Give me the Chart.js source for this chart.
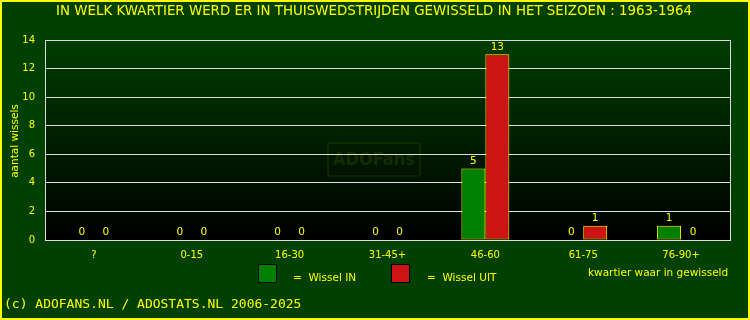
<!DOCTYPE html>
<html>
<head>
<meta charset="utf-8">
<script src="https://cdn.jsdelivr.net/npm/chart.js@4"></script>
<style>
  html, body { margin: 0; padding: 0; background: #004000; }
  #wrap { width: 750px; height: 320px; }
</style>
</head>
<body>
<div id="wrap"><canvas id="chart" width="750" height="320"></canvas></div>
<script>
// gegevens
const categories = ['?', '0-15', '16-30', '31-45+', '46-60', '61-75', '76-90+'];
const wisselIn = [0, 0, 0, 0, 5, 0, 1];
const wisselUit = [0, 0, 0, 0, 13, 1, 0];
const yMax = 14;
const yStep = 2;

const YELLOW = '#ffff00';
const FONT = '"DejaVu Sans", sans-serif';

const decor = {
  id: 'decor',
  beforeDraw(chart) {
    const { ctx, chartArea: a } = chart;
    ctx.save();
    ctx.fillStyle = '#004000';
    ctx.fillRect(0, 0, chart.width, chart.height);
    const g = ctx.createLinearGradient(0, a.top, 0, a.bottom);
    g.addColorStop(0, '#003c00');
    g.addColorStop(1, '#000000');
    ctx.fillStyle = g;
    ctx.fillRect(a.left, a.top, a.right - a.left, a.bottom - a.top);

    // watermerk
    ctx.strokeStyle = 'rgba(60,80,0,0.35)';
    ctx.lineWidth = 1.5;
    const wx = 328, wy = 143, ww = 92, wh = 33;
    ctx.beginPath();
    ctx.roundRect(wx, wy, ww, wh, 3);
    ctx.stroke();
    ctx.fillStyle = 'rgba(60,80,0,0.35)';
    ctx.font = 'bold 18px "DejaVu Sans Condensed", ' + FONT;
    ctx.textAlign = 'center';
    ctx.textBaseline = 'middle';
    ctx.fillText('ADOFans', wx + ww / 2, wy + wh / 2 + 1);
    ctx.restore();
  },
  afterDatasetsDraw(chart) {
    const { ctx } = chart;
    ctx.save();
    ctx.fillStyle = YELLOW;
    ctx.font = '10.5px ' + FONT;
    ctx.textAlign = 'center';
    ctx.textBaseline = 'bottom';
    chart.data.datasets.forEach((ds, i) => {
      chart.getDatasetMeta(i).data.forEach((bar, j) => {
        ctx.fillText(String(ds.data[j]), bar.x, bar.y - 2);
      });
    });
    ctx.restore();
  },
  afterDraw(chart) {
    const { ctx, chartArea: a } = chart;
    ctx.save();
    // rechter rand van het plotvlak
    ctx.strokeStyle = '#dddddd';
    ctx.lineWidth = 1;
    ctx.beginPath();
    ctx.moveTo(a.right + 0.5, a.top);
    ctx.lineTo(a.right + 0.5, a.bottom + 0.5);
    ctx.stroke();

    ctx.fillStyle = YELLOW;
    ctx.textBaseline = 'middle';

    // titel
    ctx.font = '13.4px ' + FONT;
    ctx.textAlign = 'center';
    ctx.fillText('IN WELK KWARTIER WERD ER IN THUISWEDSTRIJDEN GEWISSELD IN HET SEIZOEN : 1963-1964', 374, 12);

    // y-as titel
    ctx.save();
    ctx.translate(15, 141);
    ctx.rotate(-Math.PI / 2);
    ctx.font = '10.5px ' + FONT;
    ctx.fillText('aantal wissels', 0, 0);
    ctx.restore();

    // legenda
    ctx.textAlign = 'left';
    ctx.font = '10.5px ' + FONT;
    ctx.fillStyle = '#008000';
    ctx.fillRect(258, 264, 19, 19);
    ctx.strokeStyle = '#000000';
    ctx.strokeRect(258.5, 264.5, 18, 18);
    ctx.fillStyle = '#cc1414';
    ctx.fillRect(391, 264, 19, 19);
    ctx.strokeRect(391.5, 264.5, 18, 18);
    ctx.fillStyle = YELLOW;
    ctx.fillText('=  Wissel IN', 293, 278);
    ctx.fillText('=  Wissel UIT', 427, 278);
    ctx.fillText('kwartier waar in gewisseld', 588, 273);

    // voetregel
    ctx.font = '13px "DejaVu Sans Mono", monospace';
    ctx.fillText('(c) ADOFANS.NL / ADOSTATS.NL 2006-2025', 4, 305);

    // kader
    ctx.strokeStyle = YELLOW;
    ctx.lineWidth = 2;
    ctx.strokeRect(1, 1, chart.width - 2, chart.height - 2);
    ctx.restore();
  }
};

const zeroless = c => (c.raw === 0 ? 0 : 1);

new Chart(document.getElementById('chart'), {
  type: 'bar',
  data: {
    labels: categories,
    datasets: [
      { label: 'Wissel IN', data: wisselIn, backgroundColor: '#008000', borderColor: YELLOW, borderWidth: zeroless, borderSkipped: false },
      { label: 'Wissel UIT', data: wisselUit, backgroundColor: '#cc1414', borderColor: YELLOW, borderWidth: zeroless, borderSkipped: false }
    ]
  },
  options: {
    responsive: false,
    animation: false,
    devicePixelRatio: 1,
    layout: { padding: { top: 40, right: 20, left: 0, bottom: 0 } },
    datasets: { bar: { categoryPercentage: 0.49, barPercentage: 1 } },
    plugins: { legend: { display: false }, title: { display: false }, tooltip: { enabled: false } },
    scales: {
      x: {
        grid: { display: false, drawTicks: false },
        border: { display: true, color: '#dddddd' },
        ticks: { color: YELLOW, font: { size: 10, family: FONT }, padding: 9, maxRotation: 0 },
        afterFit: s => { s.height = 80; }
      },
      y: {
        min: 0,
        max: yMax,
        ticks: { stepSize: yStep, color: YELLOW, font: { size: 10, family: FONT }, padding: 10 },
        grid: { color: '#dddddd', drawTicks: false },
        border: { display: true, color: '#dddddd' },
        afterFit: s => { s.width = 45; }
      }
    }
  },
  plugins: [decor]
});
</script>
</body>
</html>
